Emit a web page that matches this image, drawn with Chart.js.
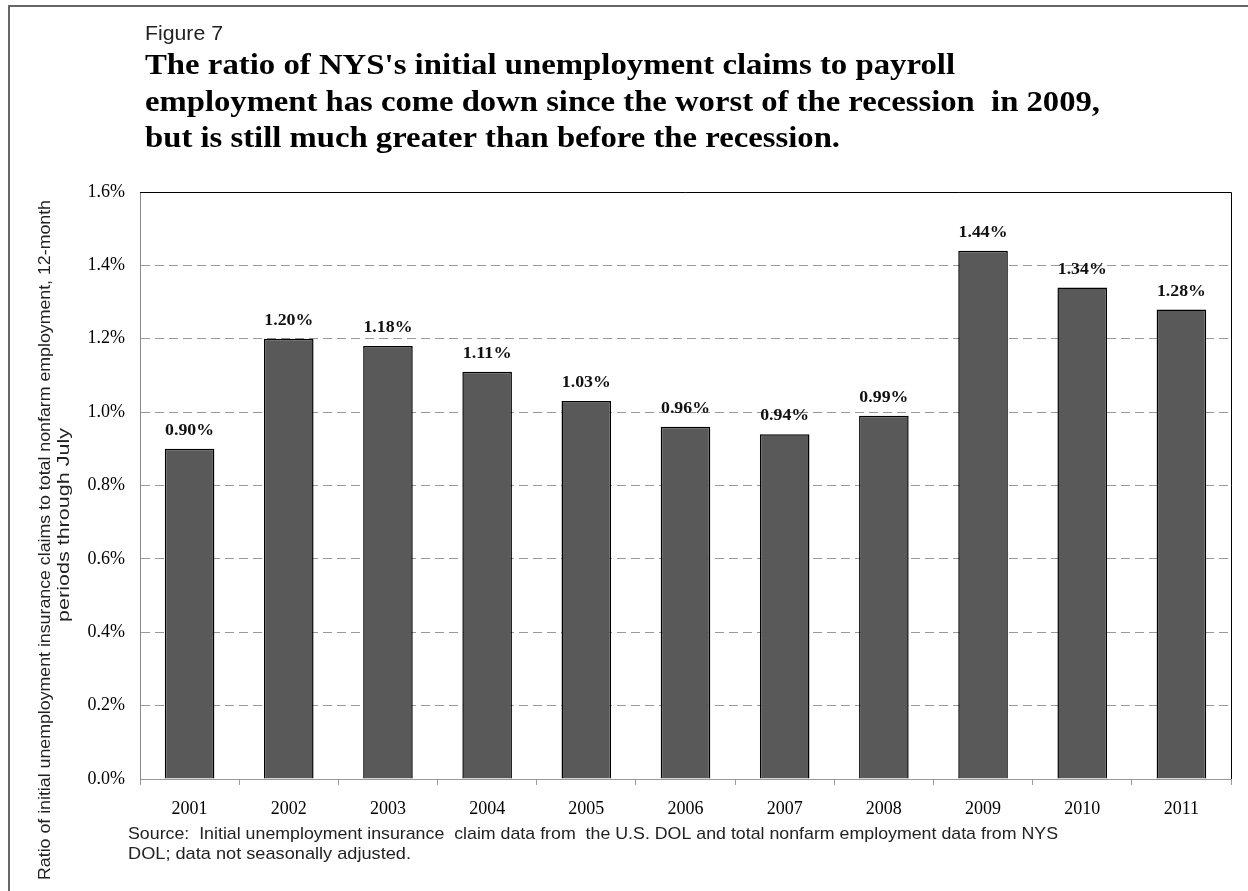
<!DOCTYPE html>
<html>
<head>
<meta charset="utf-8">
<title>Figure 7</title>
<script src="https://cdn.jsdelivr.net/npm/chart.js@4.4.1/dist/chart.umd.min.js"></script>
<style>
  html, body { margin: 0; padding: 0; background: #fff; }
  #wrap { width: 1248px; height: 891px; }
</style>
</head>
<body>
<div id="wrap"><canvas id="ratioChart" width="1248" height="891"></canvas></div>
<script>
const years = ['2001', '2002', '2003', '2004', '2005', '2006', '2007', '2008', '2009', '2010', '2011'];
const claimRatio = [0.90, 1.20, 1.18, 1.11, 1.03, 0.96, 0.94, 0.99, 1.44, 1.34, 1.28];
const yMin = 0;
const yMax = 1.6;
const yStep = 0.2;

const figureLabel = 'Figure 7';
const headline = [
  "The ratio of NYS's initial unemployment claims to payroll",
  'employment has come down since the worst of the recession  in 2009,',
  'but is still much greater than before the recession.'
];
const yTitle = [
  'Ratio of initial unemployment insurance claims to total nonfarm employment, 12-month',
  'periods through July'
];
const sourceNote = [
  'Source:  Initial unemployment insurance  claim data from  the U.S. DOL and total nonfarm employment data from NYS',
  'DOL; data not seasonally adjusted.'
];

// draw text stretched or squeezed horizontally to a given width
function fitText(ctx, text, x, y, width) {
  const natural = ctx.measureText(text).width;
  const k = width / natural;
  ctx.save();
  ctx.translate(x, y);
  ctx.scale(k, 1);
  const align = ctx.textAlign;
  ctx.fillText(text, 0, 0);
  ctx.restore();
}

// value labels above each bar
const barLabels = {
  id: 'barLabels',
  afterDatasetsDraw(chart) {
    const ctx = chart.ctx;
    const meta = chart.getDatasetMeta(0);
    ctx.save();
    ctx.font = 'bold 16px "Liberation Serif"';
    ctx.fillStyle = '#111';
    ctx.textAlign = 'center';
    ctx.textBaseline = 'middle';
    meta.data.forEach((bar, i) => {
      fitText(ctx, claimRatio[i].toFixed(2) + '%', bar.x, bar.y - 18, 49);
    });
    ctx.restore();
  }
};

// frame, plot border and the surrounding texts
const decorations = {
  id: 'decorations',
  afterDraw(chart) {
    const ctx = chart.ctx;
    const a = chart.chartArea;
    ctx.save();

    ctx.strokeStyle = '#666';
    ctx.lineWidth = 2;
    ctx.beginPath();
    ctx.moveTo(9, 891);
    ctx.lineTo(9, 6);
    ctx.lineTo(1248, 6);
    ctx.stroke();

    ctx.strokeStyle = '#000';
    ctx.lineWidth = 1;
    ctx.beginPath();
    ctx.moveTo(a.left, a.top + 0.5);
    ctx.lineTo(a.right + 0.5, a.top + 0.5);
    ctx.lineTo(a.right + 0.5, a.bottom);
    ctx.stroke();

    ctx.fillStyle = '#222';
    ctx.textAlign = 'left';
    ctx.textBaseline = 'alphabetic';
    ctx.font = '20px "Liberation Sans"';
    fitText(ctx, figureLabel, 145, 40, 78);

    ctx.fillStyle = '#000';
    ctx.font = 'bold 29px "Liberation Serif"';
    const headWidths = [810, 955, 695];
    headline.forEach((line, i) => {
      fitText(ctx, line, 145, 74 + i * 36.5, headWidths[i]);
    });

    ctx.fillStyle = '#222';
    ctx.font = '17px "Liberation Sans"';
    fitText(ctx, sourceNote[0], 128, 839, 930);
    fitText(ctx, sourceNote[1], 128, 859, 283);

    ctx.textAlign = 'center';
    ctx.save();
    ctx.translate(50, 540);
    ctx.rotate(-Math.PI / 2);
    fitText(ctx, yTitle[0], 0, 0, 680);
    ctx.restore();
    ctx.save();
    ctx.translate(69, 525);
    ctx.rotate(-Math.PI / 2);
    fitText(ctx, yTitle[1], 0, 0, 194);
    ctx.restore();

    ctx.restore();
  }
};

Chart.defaults.font.family = '"Liberation Serif", "Times New Roman", serif';
Chart.defaults.color = '#000';

new Chart(document.getElementById('ratioChart'), {
  type: 'bar',
  data: {
    labels: years,
    datasets: [{
      data: claimRatio,
      backgroundColor: '#595959',
      borderColor: '#000',
      borderWidth: 1.5,
      borderSkipped: 'bottom',
      categoryPercentage: 1,
      barPercentage: 0.5
    }]
  },
  options: {
    responsive: false,
    animation: false,
    layout: { padding: { top: 192, right: 17, bottom: 0, left: 0 } },
    plugins: {
      legend: { display: false },
      tooltip: { enabled: false }
    },
    scales: {
      x: {
        afterFit(scale) { scale.height = 112; },
        grid: {
          drawOnChartArea: false,
          drawTicks: true,
          tickLength: 6,
          color: '#999',
          offset: true
        },
        border: { color: '#999', width: 1 },
        ticks: {
          padding: 13,
          font: { size: 18 },
          maxRotation: 0
        }
      },
      y: {
        min: yMin,
        max: yMax,
        afterFit(scale) { scale.width = 140; },
        grid: {
          color: '#999',
          drawTicks: false
        },
        border: { color: '#888', width: 1, dash: [9, 5] },
        ticks: {
          stepSize: yStep,
          padding: 15,
          font: { size: 18 },
          callback: v => v.toFixed(1) + '%'
        }
      }
    }
  },
  plugins: [barLabels, decorations]
});
</script>
</body>
</html>
